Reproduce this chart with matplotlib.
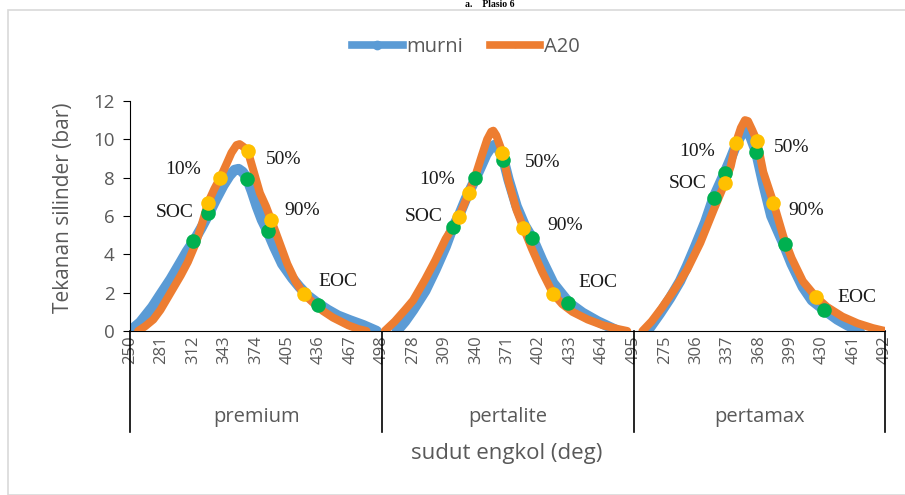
import numpy as np
import matplotlib.pyplot as plt
from matplotlib.patches import Rectangle
from matplotlib.lines import Line2D

# kelompok bahan bakar dan rentang sudut engkol tiap kelompok
groups = ["premium", "pertalite", "pertamax"]
deg_start = [250, 248, 245]
deg_end = [498, 495, 492]

# tekanan silinder murni (biru)
premium_murni_deg = [250, 260, 272, 280, 290, 300, 306, 313, 320, 328, 335, 342, 348, 353, 357, 361, 365, 370, 375, 380, 386, 392, 400, 410, 417, 425, 435, 445, 455, 467, 480, 493]
premium_murni_p = [0, 0.45, 1.25, 1.9, 2.7, 3.6, 4.15, 4.7, 5.35, 6.15, 6.9, 7.6, 8.1, 8.4, 8.45, 8.3, 8.0, 7.3, 6.5, 5.8, 5.15, 4.4, 3.5, 2.75, 2.3, 1.85, 1.45, 1.1, 0.8, 0.55, 0.3, 0]
pertalite_murni_deg = [262, 270, 278, 290, 300, 310, 317, 323, 330, 339, 345, 350, 355, 358, 362, 367, 372, 380, 388, 396, 405, 416, 425, 432, 445, 460, 470, 480]
pertalite_murni_p = [0, 0.5, 1.1, 2.1, 3.2, 4.4, 5.4, 6.0, 6.9, 7.9, 8.6, 9.2, 9.6, 9.7, 9.5, 8.95, 7.9, 6.5, 5.5, 4.8, 3.7, 2.5, 1.9, 1.45, 0.95, 0.5, 0.25, 0]
pertamax_murni_deg = [258, 270, 280, 290, 297, 305, 315, 323, 334, 340, 346, 351, 355, 359, 365, 372, 380, 392, 400, 411, 420, 432, 445, 455, 467]
pertamax_murni_p = [0, 0.9, 1.7, 2.6, 3.4, 4.4, 5.7, 6.95, 8.25, 9.0, 9.8, 10.3, 10.4, 10.2, 9.35, 7.7, 6.0, 4.55, 3.5, 2.3, 1.6, 1.1, 0.6, 0.3, 0]

# tekanan silinder A20 (oranye)
premium_a20_deg = [258, 265, 273, 280, 290, 300, 307, 315, 321, 327, 333, 339, 345, 350, 355, 358, 362, 366, 372, 378, 384, 389, 396, 405, 413, 421, 430, 440, 450, 465, 475, 483]
premium_a20_p = [0, 0.25, 0.6, 1.1, 2.0, 2.9, 3.6, 4.6, 5.6, 6.7, 7.4, 8.0, 8.7, 9.3, 9.7, 9.75, 9.6, 9.4, 8.3, 7.2, 6.5, 5.8, 4.8, 3.5, 2.6, 1.95, 1.5, 1.05, 0.7, 0.3, 0.1, 0]
pertalite_a20_deg = [250, 260, 270, 278, 290, 300, 310, 317, 323, 333, 340, 346, 351, 355, 357, 360, 366, 372, 380, 387, 395, 405, 416, 425, 435, 450, 465, 480, 489]
pertalite_a20_p = [0, 0.5, 1.1, 1.6, 2.7, 3.7, 4.8, 5.4, 5.95, 7.2, 8.2, 9.2, 10.0, 10.4, 10.45, 10.2, 9.3, 7.8, 6.3, 5.35, 4.3, 3.1, 1.95, 1.4, 1.0, 0.6, 0.3, 0.1, 0]
pertamax_a20_deg = [253, 262, 272, 285, 297, 310, 323, 334, 340, 345, 350, 354, 357, 361, 366, 372, 382, 392, 400, 411, 424, 435, 450, 465, 480, 492]
pertamax_a20_p = [0, 0.5, 1.2, 2.2, 3.2, 4.6, 6.3, 7.7, 8.6, 9.8, 10.6, 11.0, 10.95, 10.5, 9.9, 8.3, 6.7, 4.9, 3.8, 2.6, 1.77, 1.25, 0.75, 0.4, 0.15, 0]

# titik SOC, 10%, 50%, 90%, EOC (hijau = murni, kuning = A20)
green_deg = [[312, 327, 365, 386, 435], [317, 339, 367, 395, 431], [323, 334, 365, 393, 432]]
green_p = [[4.7, 6.15, 7.95, 5.2, 1.35], [5.43, 7.97, 8.9, 4.84, 1.45], [6.95, 8.25, 9.35, 4.55, 1.1]]
yellow_deg = [[327, 339, 366, 389, 421], [323, 333, 366, 386, 416], [334, 345, 366, 382, 424]]
yellow_p = [[6.68, 8.0, 9.4, 5.8, 1.93], [5.96, 7.2, 9.28, 5.37, 1.93], [7.7, 9.8, 9.9, 6.7, 1.77]]

# label titik
point_labels = ["SOC", "10%", "50%", "90%", "EOC"]
label_deg = [[294, 302, 401, 420, 455], [288, 301.5, 406, 427.6, 460], [298, 306.6, 400, 414, 464]]
label_p = [[6.2, 8.45, 8.97, 6.3, 2.6], [5.95, 7.88, 8.8, 5.48, 2.55], [7.67, 9.35, 9.6, 6.3, 1.77]]

murni_deg = [premium_murni_deg, pertalite_murni_deg, pertamax_murni_deg]
murni_p = [premium_murni_p, pertalite_murni_p, pertamax_murni_p]
a20_deg = [premium_a20_deg, pertalite_a20_deg, pertamax_a20_deg]
a20_p = [premium_a20_p, pertalite_a20_p, pertamax_a20_p]

# posisi kategori global (setiap derajat = satu kategori)
offsets = []
n = 0
for g in range(3):
    offsets.append(n)
    n = n + deg_end[g] - deg_start[g] + 1
ncat = n

def pos(g, d):
    return offsets[g] + np.array(d) - deg_start[g]

blue = "#5B9BD5"
orange = "#ED7D31"
gray = "#595959"

fig = plt.figure(figsize=(9.05, 4.95), dpi=100)
ax = fig.add_axes([130 / 905, 1 - 331 / 495, 755 / 905, 230 / 495])

# bingkai grafik
fig.patches.append(Rectangle((8 / 905, 0), 1, 1 - 10 / 495, transform=fig.transFigure,
                             fill=False, edgecolor="#D9D9D9", linewidth=1.2))

for g in range(3):
    ax.plot(pos(g, murni_deg[g]), murni_p[g], color=blue, lw=7.5, solid_capstyle="round",
            solid_joinstyle="round", zorder=2)
for g in range(3):
    ax.plot(pos(g, a20_deg[g]), a20_p[g], color=orange, lw=5.8, solid_capstyle="round",
            solid_joinstyle="round", zorder=3)
for g in range(3):
    ax.plot(pos(g, green_deg[g]), green_p[g], "o", color="#00B050", ms=10.5, mew=0, zorder=4)
    ax.plot(pos(g, yellow_deg[g]), yellow_p[g], "o", color="#FFC000", ms=10.5, mew=0, zorder=5)
    for k in range(5):
        ax.text(pos(g, label_deg[g][k]), label_p[g][k], point_labels[k], ha="center", va="center",
                family="Liberation Serif", fontsize=14, color="#1a1a1a", zorder=6)

ax.set_xlim(0, ncat - 1)
ax.set_ylim(0, 12)
ax.spines["top"].set_visible(False)
ax.spines["right"].set_visible(False)
ax.spines["left"].set_color("black")
ax.spines["bottom"].set_color("black")

ax.set_yticks(np.arange(0, 13, 2))
ax.tick_params(axis="y", direction="out", length=5, color="black", labelcolor=gray, labelsize=13.5, pad=6)
for t in ax.get_yticklabels():
    t.set_family("Open Sans")

# label sumbu x tiap 31 kategori
tick_pos = np.arange(0, ncat, 31)
tick_lab = []
for p in tick_pos:
    for g in range(3):
        if p >= offsets[g]:
            gg = g
    tick_lab.append(str(deg_start[gg] + p - offsets[gg]))
ax.set_xticks(tick_pos)
ax.set_xticklabels(tick_lab, rotation=90, family="Open Sans", fontsize=12, color=gray)
ax.tick_params(axis="x", length=0, pad=3)

# garis pemisah kelompok dan nama kelompok
bounds = [0, offsets[1] - 0.5, offsets[2] - 0.5, ncat - 1]
for b in bounds:
    ax.plot([b, b], [0, -101 / 230 * 12], color="black", lw=1.2, clip_on=False)
for g in range(3):
    ax.text((bounds[g] + bounds[g + 1]) / 2, -86 / 230 * 12, groups[g], ha="center", va="center",
            family="Open Sans", fontsize=14.5, color=gray)

fig.text(507 / 905, 1 - 453 / 495, "sudut engkol (deg)", ha="center", va="center",
         family="Open Sans", fontsize=16, color=gray)
fig.text(63 / 905, 1 - 208 / 495, "Tekanan silinder (bar)", ha="center", va="center", rotation=90,
         family="Open Sans", fontsize=15, color=gray)

# judul kecil di atas bingkai
fig.text(490 / 905, 1.0, "a.    Plasio 6", ha="center", va="top", family="Liberation Serif",
         fontsize=7, fontweight="bold")

# legenda
handles = [Line2D([], [], color=blue, lw=5.5, marker="o", ms=6),
           Line2D([], [], color=orange, lw=5.5, marker="o", ms=3)]
fig.legend(handles, ["murni", "A20"], loc="center", bbox_to_anchor=(466 / 905, 1 - 47 / 495), ncol=2,
           frameon=False, prop={"family": "Open Sans", "size": 14.5}, labelcolor=gray,
           handlelength=2.5, columnspacing=1.3, handletextpad=0.2)

plt.savefig("out.png", dpi=100)
